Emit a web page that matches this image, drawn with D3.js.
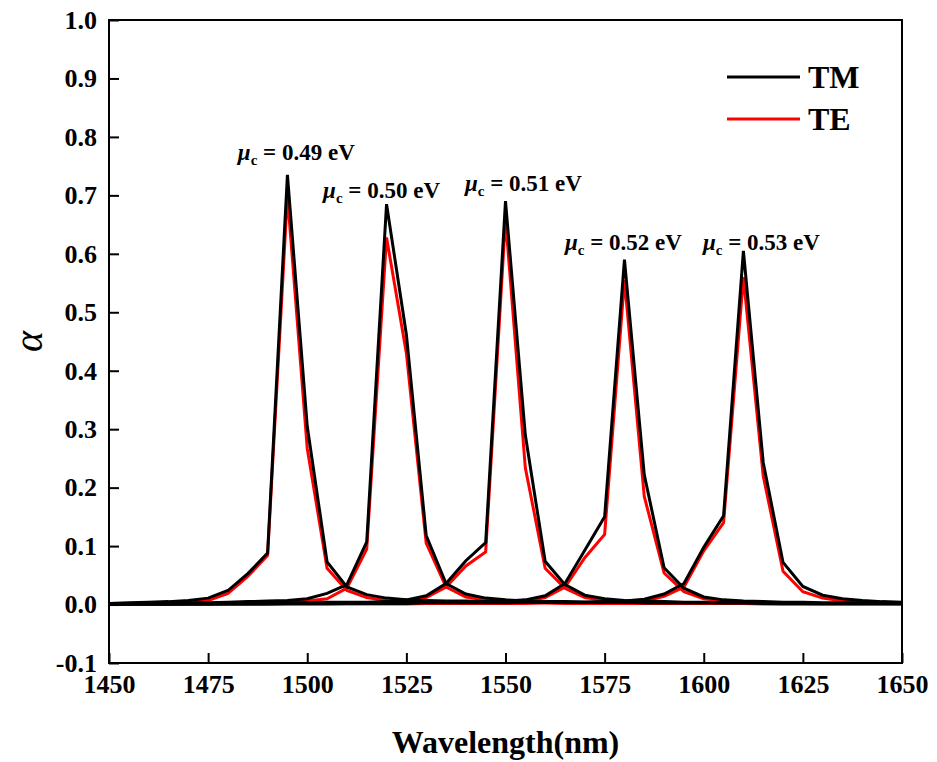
<!DOCTYPE html>
<html>
<head>
<meta charset="utf-8">
<script src="https://cdn.jsdelivr.net/npm/d3@7"></script>
<style>
  body { margin: 0; background: #fff; }
  text { font-family: "Liberation Serif", "Times New Roman", serif; font-weight: bold; }
</style>
</head>
<body>
<svg width="937" height="762"></svg>
<script>
// wavelength samples (nm)
const wavelength = [
  1450, 1455, 1460, 1465, 1470, 1475, 1480, 1485, 1490, 1495,
  1500, 1505, 1510, 1515, 1520, 1525, 1530, 1535, 1540, 1545,
  1550, 1555, 1560, 1565, 1570, 1575, 1580, 1585, 1590, 1595,
  1600, 1605, 1610, 1615, 1620, 1625, 1630, 1635, 1640, 1645,
  1650
];

// absorption, mu_c = 0.49 eV
const tm049 = [
  0.002, 0.003, 0.004, 0.005, 0.007, 0.011, 0.024, 0.053, 0.088, 0.735,
  0.305, 0.073, 0.030, 0.017, 0.011, 0.008, 0.007, 0.006, 0.006, 0.005,
  0.005, 0.005, 0.004, 0.004, 0.004, 0.004, 0.004, 0.003, 0.003, 0.003,
  0.003, 0.003, 0.003, 0.003, 0.002, 0.002, 0.002, 0.002, 0.002, 0.002,
  0.002
];
const te049 = [
  0.001, 0.002, 0.002, 0.003, 0.004, 0.007, 0.019, 0.048, 0.084, 0.700,
  0.267, 0.062, 0.024, 0.012, 0.007, 0.005, 0.004, 0.004, 0.003, 0.003,
  0.003, 0.003, 0.003, 0.002, 0.002, 0.002, 0.002, 0.002, 0.002, 0.002,
  0.002, 0.002, 0.002, 0.002, 0.001, 0.001, 0.001, 0.001, 0.001, 0.001,
  0.001
];

// mu_c = 0.50 eV
const tm050 = [
  0.001, 0.001, 0.002, 0.002, 0.003, 0.003, 0.004, 0.005, 0.006, 0.007,
  0.010, 0.019, 0.034, 0.107, 0.685, 0.462, 0.118, 0.036, 0.018, 0.011,
  0.008, 0.006, 0.005, 0.005, 0.004, 0.004, 0.004, 0.003, 0.003, 0.003,
  0.003, 0.003, 0.003, 0.002, 0.002, 0.002, 0.002, 0.002, 0.002, 0.002,
  0.002
];
const te050 = [
  0.001, 0.001, 0.001, 0.001, 0.002, 0.002, 0.002, 0.003, 0.003, 0.004,
  0.006, 0.010, 0.028, 0.095, 0.628, 0.430, 0.105, 0.030, 0.013, 0.008,
  0.006, 0.004, 0.003, 0.003, 0.003, 0.002, 0.002, 0.002, 0.002, 0.002,
  0.002, 0.002, 0.002, 0.001, 0.001, 0.001, 0.001, 0.001, 0.001, 0.001,
  0.001
];

// mu_c = 0.51 eV
const tm051 = [
  0.001, 0.001, 0.001, 0.001, 0.002, 0.002, 0.002, 0.002, 0.003, 0.003,
  0.003, 0.004, 0.004, 0.004, 0.005, 0.008, 0.015, 0.036, 0.075, 0.106,
  0.690, 0.290, 0.074, 0.034, 0.016, 0.010, 0.007, 0.006, 0.005, 0.004,
  0.004, 0.003, 0.003, 0.003, 0.003, 0.003, 0.002, 0.002, 0.002, 0.002,
  0.002
];
const te051 = [
  0.001, 0.001, 0.001, 0.001, 0.001, 0.001, 0.001, 0.001, 0.002, 0.002,
  0.002, 0.002, 0.002, 0.003, 0.003, 0.005, 0.012, 0.030, 0.066, 0.090,
  0.660, 0.234, 0.062, 0.028, 0.012, 0.007, 0.005, 0.004, 0.003, 0.003,
  0.002, 0.002, 0.002, 0.002, 0.002, 0.002, 0.001, 0.001, 0.001, 0.001,
  0.001
];

// mu_c = 0.52 eV
const tm052 = [
  0.001, 0.001, 0.001, 0.001, 0.001, 0.001, 0.002, 0.002, 0.002, 0.002,
  0.002, 0.003, 0.003, 0.003, 0.003, 0.004, 0.004, 0.004, 0.005, 0.005,
  0.006, 0.008, 0.015, 0.036, 0.093, 0.150, 0.590, 0.222, 0.063, 0.028,
  0.013, 0.008, 0.006, 0.005, 0.004, 0.004, 0.003, 0.003, 0.003, 0.003,
  0.002
];
const te052 = [
  0.001, 0.001, 0.001, 0.001, 0.001, 0.001, 0.001, 0.001, 0.001, 0.001,
  0.001, 0.001, 0.002, 0.002, 0.002, 0.002, 0.002, 0.003, 0.003, 0.003,
  0.004, 0.005, 0.012, 0.030, 0.080, 0.120, 0.555, 0.185, 0.054, 0.022,
  0.010, 0.006, 0.004, 0.003, 0.003, 0.002, 0.002, 0.002, 0.002, 0.002,
  0.001
];

// mu_c = 0.53 eV
const tm053 = [
  0.001, 0.001, 0.001, 0.001, 0.001, 0.001, 0.001, 0.001, 0.001, 0.002,
  0.002, 0.002, 0.002, 0.002, 0.002, 0.002, 0.003, 0.003, 0.003, 0.003,
  0.003, 0.004, 0.004, 0.004, 0.004, 0.005, 0.006, 0.009, 0.018, 0.036,
  0.098, 0.152, 0.605, 0.243, 0.072, 0.031, 0.016, 0.010, 0.007, 0.005,
  0.004
];
const te053 = [
  0.001, 0.001, 0.001, 0.001, 0.001, 0.001, 0.001, 0.001, 0.001, 0.001,
  0.001, 0.001, 0.001, 0.001, 0.001, 0.001, 0.002, 0.002, 0.002, 0.002,
  0.002, 0.002, 0.003, 0.003, 0.003, 0.003, 0.004, 0.006, 0.014, 0.030,
  0.092, 0.140, 0.560, 0.220, 0.057, 0.022, 0.011, 0.006, 0.004, 0.003,
  0.003
];

const xTicks = [1450, 1475, 1500, 1525, 1550, 1575, 1600, 1625, 1650];
const yTicks = [-0.1, 0.0, 0.1, 0.2, 0.3, 0.4, 0.5, 0.6, 0.7, 0.8, 0.9, 1.0];
const muLabels = ['0.49', '0.50', '0.51', '0.52', '0.53'];

const teSeries = [te049, te050, te051, te052, te053];
const tmSeries = [tm049, tm050, tm051, tm052, tm053];

// where each mu_c label sits, in data units (left edge, baseline)
const labelAnchor = [
  { x: 1482.5, y: 0.760 },
  { x: 1504.0, y: 0.695 },
  { x: 1539.8, y: 0.707 },
  { x: 1565.0, y: 0.607 },
  { x: 1599.8, y: 0.607 }
];

const frame = { left: 109, right: 902, top: 20, bottom: 663 };
const svg = d3.select('svg');

const xScale = d3.scaleLinear().domain([1450, 1650]).range([frame.left, frame.right]);
const yScale = d3.scaleLinear().domain([-0.1, 1.0]).range([frame.bottom, frame.top]);

const line = d3.line()
  .x((d, i) => xScale(wavelength[i]))
  .y(d => yScale(d));

// clip to the frame
svg.append('clipPath').attr('id', 'plotClip')
  .append('rect')
  .attr('x', frame.left).attr('y', frame.top)
  .attr('width', frame.right - frame.left).attr('height', frame.bottom - frame.top);

const plot = svg.append('g').attr('clip-path', 'url(#plotClip)');

// TE first, TM drawn on top
plot.selectAll('path.te')
  .data(teSeries)
  .enter()
  .append('path')
  .attr('class', 'te')
  .attr('d', line)
  .attr('fill', 'none')
  .attr('stroke', '#ff0000')
  .attr('stroke-width', 3)
  .attr('stroke-linejoin', 'miter');

plot.selectAll('path.tm')
  .data(tmSeries)
  .enter()
  .append('path')
  .attr('class', 'tm')
  .attr('d', line)
  .attr('fill', 'none')
  .attr('stroke', '#000')
  .attr('stroke-width', 3)
  .attr('stroke-linejoin', 'miter');

// axes, ticks pointing inwards
const xAxis = d3.axisBottom(xScale)
  .tickValues(xTicks)
  .tickFormat(d3.format('d'))
  .tickSizeInner(-10)
  .tickSizeOuter(0)
  .tickPadding(12);

// plain hyphen for negatives, as in the original figure
const yAxis = d3.axisLeft(yScale)
  .tickValues(yTicks)
  .tickFormat(d => d.toFixed(1))
  .tickSizeInner(-10)
  .tickSizeOuter(0)
  .tickPadding(12);

const gx = svg.append('g')
  .attr('transform', `translate(0,${frame.bottom})`)
  .call(xAxis);

const gy = svg.append('g')
  .attr('transform', `translate(${frame.left},0)`)
  .call(yAxis);

[gx, gy].forEach(g => {
  g.select('.domain').remove();
  g.selectAll('.tick line').attr('stroke', '#000').attr('stroke-width', 2);
  g.selectAll('.tick text')
    .attr('fill', '#000')
    .style('font-size', '26px')
    .style('font-family', '"Liberation Serif", serif')
    .style('font-weight', 'bold');
});

// frame
svg.append('rect')
  .attr('x', frame.left).attr('y', frame.top)
  .attr('width', frame.right - frame.left).attr('height', frame.bottom - frame.top)
  .attr('fill', 'none')
  .attr('stroke', '#000')
  .attr('stroke-width', 2);

// axis titles
svg.append('text')
  .attr('x', (frame.left + frame.right) / 2)
  .attr('y', 753)
  .attr('text-anchor', 'middle')
  .style('font-size', '32px')
  .text('Wavelength(nm)');

svg.append('text')
  .attr('transform', `translate(42,${(frame.top + frame.bottom) / 2}) rotate(-90)`)
  .attr('text-anchor', 'middle')
  .style('font-size', '40px')
  .style('font-style', 'italic')
  .style('font-weight', 'normal')
  .text('α');

// mu_c labels
const lab = svg.selectAll('text.mu')
  .data(muLabels)
  .enter()
  .append('text')
  .attr('class', 'mu')
  .attr('x', (d, i) => xScale(labelAnchor[i].x))
  .attr('y', (d, i) => yScale(labelAnchor[i].y))
  .style('font-size', '23px');

lab.append('tspan').style('font-style', 'italic').text('μ');
lab.append('tspan').attr('dy', 5).style('font-size', '15px').text('c');
lab.append('tspan').attr('dy', -5).text(d => ` = ${d} eV`);

// legend
const legendItems = [
  { name: 'TM', color: '#000', y: 77 },
  { name: 'TE', color: '#ff0000', y: 119 }
];
const lg = svg.selectAll('g.legend')
  .data(legendItems)
  .enter()
  .append('g')
  .attr('class', 'legend');

lg.append('line')
  .attr('x1', 727).attr('x2', 800)
  .attr('y1', d => d.y).attr('y2', d => d.y)
  .attr('stroke', d => d.color)
  .attr('stroke-width', 3);

lg.append('text')
  .attr('x', 808)
  .attr('y', d => d.y + 11)
  .style('font-size', '32px')
  .text(d => d.name);
</script>
</body>
</html>
